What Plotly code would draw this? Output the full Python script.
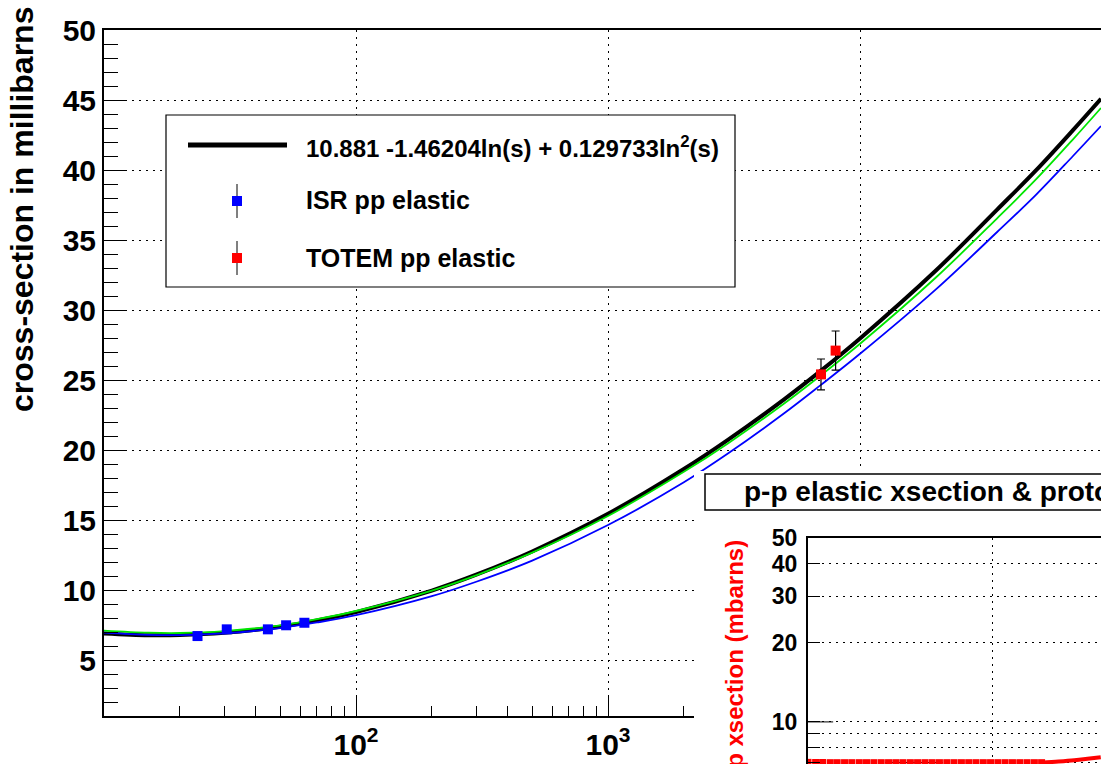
import plotly.graph_objects as go

W, H = 1101, 764

# ---------------- main pad data ----------------
sqrt_s = [10, 15, 20, 30, 50, 70, 100, 200, 300, 500, 1000, 2000, 3000,
          5000, 7000, 10000, 20000, 35000, 50000, 70000, 90400]
fit_black = [6.90, 6.77, 6.78, 6.94, 7.38, 7.83, 8.42, 9.96, 11.09, 12.75,
             15.44, 18.64, 20.74, 23.62, 25.67, 27.97, 32.82, 37.17, 39.99,
             42.85, 45.09]
fit_green = [7.10, 6.95, 6.93, 7.06, 7.48, 7.92, 8.50, 9.96, 11.05, 12.67,
             15.29, 18.44, 20.49, 23.32, 25.34, 27.59, 32.32, 36.55, 39.34,
             42.19, 44.43]
fit_blue = [6.95, 6.79, 6.78, 6.90, 7.28, 7.68, 8.20, 9.56, 10.59, 12.10,
            14.64, 17.69, 19.76, 22.62, 24.65, 26.87, 31.47, 35.57, 38.24,
            41.00, 43.14]

isr_x = [23.5, 30.7, 44.7, 52.8, 62.4]
isr_y = [6.71, 7.19, 7.19, 7.48, 7.66]
isr_err = [0.15, 0.15, 0.15, 0.15, 0.15]

totem_x = [7000, 8000]
totem_y = [25.4, 27.1]
totem_err = [1.1, 1.4]

fit_label = "10.881 -1.46204ln(s) + 0.129733ln<sup>2</sup>(s)"
isr_label = "ISR pp elastic"
totem_label = "TOTEM pp elastic"
y_title = "cross-section in millibarns"

x_tickvals = [100, 1000, 10000]
x_ticktext = ["10<sup>2</sup>", "10<sup>3</sup>", "10<sup>4</sup>"]
x_minor = [20, 30, 40, 50, 60, 70, 80, 90,
           200, 300, 400, 500, 600, 700, 800, 900,
           2000, 3000, 4000, 5000, 6000, 7000, 8000, 9000,
           20000, 30000, 40000, 50000, 60000, 70000, 80000, 90000]

# ---------------- inset pad data ----------------
inset_title = "p-p elastic xsection & proton-proton total xsection"
inset_ytitle = "p-p xsection (mbarns)"
inset_x = [10, 11.0, 12.0, 13.2, 14.4, 15.8, 17.3, 19.0, 20.8, 22.8, 25.0,
           27.4, 30.0, 32.8, 36.0, 39.4, 43.2, 47.3, 51.8, 56.8, 62.2, 68.2,
           74.7, 81.8, 89.7, 98.2, 107.6, 117.9, 129.2, 141.6, 155.1, 170.0,
           186.0]
inset_y = [7.02, 7.01, 7.01, 7.00, 7.00, 7.00, 7.00, 7.00, 7.00, 7.00, 7.00,
           7.00, 7.00, 7.00, 7.00, 7.00, 7.00, 7.00, 7.00, 7.00, 7.00, 7.00,
           7.00, 7.00, 7.00, 7.00, 7.00, 7.00, 7.00, 7.00, 7.00, 7.00,
           7.00]
inset_line_x = [186, 230, 280, 330, 390]
inset_line_y = [7.00, 7.07, 7.15, 7.24, 7.34]
inset_tickvals = [10, 20, 30, 40, 50]
inset_ticktext = ["10", "20", "30", "40", "50"]
inset_minor = [7, 8, 9]

FONT = "Liberation Sans, Arial, Helvetica, sans-serif"


def px(x):
    return x / W


def py(y):
    return 1 - y / H


fig = go.Figure()

# main pad curves
fig.add_trace(go.Scatter(x=sqrt_s, y=fit_black, mode="lines", name=fit_label,
                         line=dict(color="black", width=4, shape="spline"),
                         xaxis="x", yaxis="y"))
fig.add_trace(go.Scatter(x=sqrt_s, y=fit_green, mode="lines", name="fit (green)",
                         line=dict(color="#00e600", width=1.8, shape="spline"),
                         xaxis="x", yaxis="y"))
fig.add_trace(go.Scatter(x=sqrt_s, y=fit_blue, mode="lines", name="fit (blue)",
                         line=dict(color="#0000ff", width=1.8, shape="spline"),
                         xaxis="x", yaxis="y"))
fig.add_trace(go.Scatter(x=isr_x, y=isr_y, mode="markers", name=isr_label,
                         marker=dict(symbol="square", size=10, color="#0000ff"),
                         error_y=dict(type="data", array=isr_err, color="black",
                                      thickness=1, width=4),
                         xaxis="x", yaxis="y"))
fig.add_trace(go.Scatter(x=totem_x, y=totem_y, mode="markers", name=totem_label,
                         marker=dict(symbol="square", size=10, color="#ff0000"),
                         error_y=dict(type="data", array=totem_err, color="black",
                                      thickness=1.2, width=4),
                         xaxis="x", yaxis="y"))

# blank white pad holding the inset (covers lower right of the main pad)
fig.add_trace(go.Scatter(x=[0], y=[0], mode="markers", marker=dict(opacity=0),
                         hoverinfo="skip", showlegend=False,
                         xaxis="x2", yaxis="y2"))

# inset
fig.add_trace(go.Scatter(x=inset_x, y=inset_y, mode="markers", name="inset data",
                         marker=dict(symbol="square", size=7, color="#ff0000"),
                         xaxis="x3", yaxis="y3"))
fig.add_trace(go.Scatter(x=inset_line_x, y=inset_line_y, mode="lines",
                         name="inset fit",
                         line=dict(color="#ff0000", width=4, shape="spline"),
                         xaxis="x3", yaxis="y3"))

tickfont = dict(family=FONT, size=30, color="black", weight="bold")
dotgrid = dict(showgrid=True, gridcolor="black", gridwidth=1, griddash="2px,5px")

fig.update_layout(
    template="none",
    width=W, height=H, autosize=False,
    margin=dict(l=0, r=0, t=0, b=0, pad=0),
    paper_bgcolor="white", plot_bgcolor="white",
    showlegend=False,
    font=dict(family=FONT, color="black"),
    xaxis=dict(type="log", range=[1, 4.9562], domain=[px(104), 1], anchor="y",
               showline=True, linewidth=2, linecolor="black", mirror=True,
               ticks="inside", ticklen=20, tickwidth=1, tickcolor="black",
               tickmode="array", tickvals=x_tickvals, ticktext=x_ticktext,
               tickfont=tickfont, zeroline=False, automargin=False,
               ticklabelstandoff=1,
               minor=dict(tickmode="array", tickvals=x_minor, ticks="inside",
                          ticklen=10, tickwidth=1, tickcolor="black",
                          showgrid=False),
               **dotgrid),
    yaxis=dict(range=[1, 50], domain=[py(716), py(30)], anchor="x",
               showline=True, linewidth=2, linecolor="black", mirror=False,
               ticks="inside", ticklen=21, tickwidth=1, tickcolor="black",
               tickmode="linear", tick0=0, dtick=5,
               tickfont=tickfont, zeroline=False, automargin=False,
               minor=dict(dtick=1, ticks="inside", ticklen=14, tickwidth=1,
                          tickcolor="black", showgrid=False),
               **dotgrid),
    xaxis2=dict(domain=[px(694), 1], anchor="y2", visible=False,
                range=[0, 1], automargin=False),
    yaxis2=dict(domain=[0, py(471)], anchor="x2", visible=False,
                range=[0, 1], automargin=False),
    xaxis3=dict(type="log", range=[1, 2.5924], domain=[px(808), 1],
                anchor="y3", side="top", showline=True, linewidth=2,
                linecolor="black", ticks="", showticklabels=False,
                tickmode="array", tickvals=[100], zeroline=False,
                automargin=False, **dotgrid),
    yaxis3=dict(type="log", range=[0.8401, 1.69897], domain=[0, py(538)],
                anchor="x3", showline=True, linewidth=2, linecolor="black",
                ticks="inside", ticklen=12, tickwidth=1, tickcolor="black",
                tickmode="array", tickvals=inset_tickvals,
                ticktext=inset_ticktext,
                tickfont=dict(family=FONT, size=23, color="black",
                              weight="bold"),
                zeroline=False, automargin=False, ticklabelstandoff=4,
                minor=dict(tickmode="array", tickvals=inset_minor,
                           ticks="inside", ticklen=12, tickwidth=1,
                           tickcolor="black", showgrid=True,
                           gridcolor="black", gridwidth=1,
                           griddash="2px,5px"),
                **dotgrid),
)

shapes = [
    # legend box
    dict(type="rect", xref="paper", yref="paper", x0=px(166), x1=px(735),
         y0=py(287), y1=py(115), line=dict(color="black", width=1.2),
         fillcolor="white", layer="above"),
    dict(type="line", xref="paper", yref="paper", x0=px(188), x1=px(287),
         y0=py(145), y1=py(145), line=dict(color="black", width=5),
         layer="above"),
    dict(type="line", xref="paper", yref="paper", x0=px(237), x1=px(237),
         y0=py(184), y1=py(218), line=dict(color="black", width=1),
         layer="above"),
    dict(type="rect", xref="paper", yref="paper", x0=px(232), x1=px(242),
         y0=py(206), y1=py(196), line=dict(width=0), fillcolor="#0000ff",
         layer="above"),
    dict(type="line", xref="paper", yref="paper", x0=px(237), x1=px(237),
         y0=py(241), y1=py(275), line=dict(color="black", width=1),
         layer="above"),
    dict(type="rect", xref="paper", yref="paper", x0=px(232), x1=px(242),
         y0=py(263), y1=py(253), line=dict(width=0), fillcolor="#ff0000",
         layer="above"),
    # inset title box
    dict(type="rect", xref="paper", yref="paper", x0=px(705), x1=px(1120),
         y0=py(510), y1=py(474), line=dict(color="black", width=1.5),
         fillcolor="white", layer="above"),
    # long decade tick on the inset y axis
    dict(type="line", xref="x3", yref="y3", x0=10, x1=13.7, y0=10, y1=10,
         line=dict(color="black", width=1), layer="above"),
]

lfont = dict(family=FONT, size=25, color="black", weight="bold")
annotations = [
    dict(text=y_title, xref="paper", yref="paper", x=px(22), y=py(210),
         xanchor="center", yanchor="middle", textangle=-90, showarrow=False,
         font=dict(family=FONT, size=32, color="black", weight="bold")),
    dict(text=fit_label, xref="paper", yref="paper", x=px(304), y=py(147),
         xanchor="left", yanchor="middle", showarrow=False,
         font=dict(family=FONT, size=24, color="black", weight="bold")),
    dict(text=isr_label, xref="paper", yref="paper", x=px(304), y=py(200),
         xanchor="left", yanchor="middle", showarrow=False, font=lfont),
    dict(text=totem_label, xref="paper", yref="paper", x=px(304), y=py(258),
         xanchor="left", yanchor="middle", showarrow=False, font=lfont),
    dict(text=inset_title, xref="paper", yref="paper", x=px(742), y=py(492),
         xanchor="left", yanchor="middle", showarrow=False,
         font=dict(family=FONT, size=28, color="black", weight="bold")),
    dict(text=inset_ytitle, xref="paper", yref="paper", x=px(734), y=py(538),
         xanchor="center", yanchor="top", textangle=-90, showarrow=False,
         font=dict(family=FONT, size=24, color="#ff0000", weight="bold")),
]

fig.update_layout(shapes=shapes, annotations=annotations)

fig.write_html("out.html")
